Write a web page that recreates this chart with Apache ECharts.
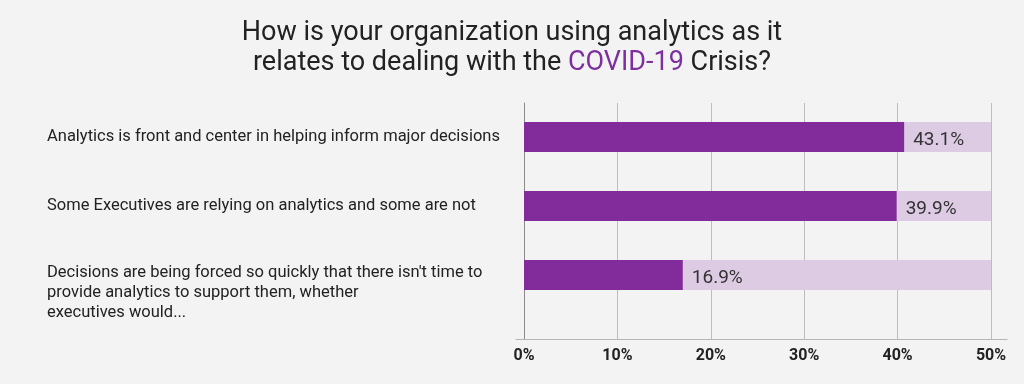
<!DOCTYPE html>
<html>
<head>
<meta charset="utf-8">
<script src="https://cdn.jsdelivr.net/npm/echarts@6/dist/echarts.min.js"></script>
<style>
html,body{margin:0;padding:0;background:#f3f3f3;}
#c{width:1024px;height:384px;}
</style>
</head>
<body>
<div id="c"></div>
<script>
const categories = [
  "Analytics is front and center in helping inform major decisions",
  "Some Executives are relying on analytics and some are not",
  "Decisions are being forced so quickly that there isn't time to\nprovide analytics to support them, whether\nexecutives would..."
];
// bar lengths as drawn in the picture (%)
const barLengths = [40.7, 39.9, 17.0];
// value labels as printed in the picture
const valueLabels = ["43.1%", "39.9%", "16.9%"];
const axisMin = 0, axisMax = 50, axisStep = 10;

const chart = echarts.init(document.getElementById('c'));
const font = 'Roboto, "Noto Sans", sans-serif';
chart.setOption({
  backgroundColor: '#f3f3f3',
  title: {
    left: 'center', top: 13,
    text: '{a|How is your organization using analytics as it}\n{a|relates to dealing with the }{b|COVID-19}{a| Crisis?}',
    textStyle: {
      fontWeight: 'normal',
      rich: {
        a: {fontFamily: font, fontSize: 27, fontWeight: 'normal', color: '#222', lineHeight: 30},
        b: {fontFamily: font, fontSize: 27, fontWeight: 'normal', color: '#7e2f9f', lineHeight: 30}
      }
    }
  },
  grid: [
    {left: 524, right: 33, top: 103, bottom: 45, outerBoundsMode: 'none', containLabel: false},
    {left: 524, right: 33, top: 102.5, height: 207, outerBoundsMode: 'none', containLabel: false},
    {left: 516, right: 17, top: 300, bottom: 45, outerBoundsMode: 'none', containLabel: false}
  ],
  xAxis: [
    {gridIndex: 0, type: 'value', position: 'bottom', min: axisMin, max: axisMax, interval: axisStep,
     axisLine: {show: false}, axisTick: {show: false},
     splitLine: {show: true, lineStyle: {color: '#bdbdbd', width: 1}},
     axisLabel: {formatter: '{value}%', fontFamily: font, fontSize: 16, fontWeight: 'bold', color: '#222', margin: 9}},
    {gridIndex: 1, type: 'value', position: 'bottom', min: axisMin, max: axisMax,
     axisLine: {show: false}, axisTick: {show: false}, axisLabel: {show: false}, splitLine: {show: false}},
    {gridIndex: 2, type: 'value', position: 'bottom', min: 0, max: 1, axisLabel: {show: false}, axisTick: {show: false},
     splitLine: {show: false}, axisLine: {show: true, lineStyle: {color: '#b5b5b5', width: 1}}}
  ],
  yAxis: [
    {gridIndex: 0, type: 'value', position: 'left', axisLabel: {show: false}, splitLine: {show: false}, axisTick: {show: false},
     axisLine: {show: true, lineStyle: {color: '#8a8a8a', width: 1}}},
    {gridIndex: 1, type: 'category', position: 'left', inverse: true,
     data: categories,
     axisLine: {show: false}, axisTick: {show: false},
     axisLabel: {align: 'left', margin: 477, fontFamily: font, fontSize: 16.5, color: '#222', lineHeight: 20,
       formatter: function (v) {
         const lines = v.split('\n');
         if (lines.length === 1) return '{t|' + v + '}';
         return '{sp| }\n' + lines.map(l => '{t|' + l + '}').join('\n');
       },
       rich: {
         t: {fontFamily: font, fontSize: 16.5, color: '#222', lineHeight: 20, align: 'left'},
         sp: {fontSize: 10, lineHeight: 36}
       }}},
    {gridIndex: 2, type: 'value', position: 'left', axisLine: {show: false}, axisTick: {show: false}, axisLabel: {show: false}, splitLine: {show: false}}
  ],
  series: [{
    type: 'bar', xAxisIndex: 1, yAxisIndex: 1,
    data: barLengths, barWidth: 30,
    itemStyle: {color: '#822c9b'},
    showBackground: true,
    backgroundStyle: {color: '#dccbe3'},
    label: {show: true, position: 'right', distance: 9, offset: [0, 3],
            formatter: p => valueLabels[p.dataIndex],
            fontFamily: font, fontSize: 19, color: '#333'}
  }]
});
</script>
</body>
</html>
